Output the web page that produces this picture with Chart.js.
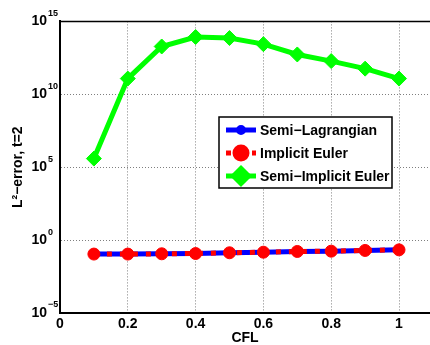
<!DOCTYPE html>
<html>
<head>
<meta charset="utf-8">
<script src="https://cdn.jsdelivr.net/npm/chart.js@4/dist/chart.umd.min.js"></script>
<style>
  body { margin: 0; background: #fff; }
  canvas { display: block; }
</style>
</head>
<body>
<canvas id="myChart" width="430" height="345"></canvas>
<script>
// CFL numbers along the x axis
const cfl = [0.1, 0.2, 0.3, 0.4, 0.5, 0.6, 0.7, 0.8, 0.9, 1.0];

// L2 error at t=2 for each scheme
const semiLagrangian = [0.110, 0.110, 0.115, 0.120, 0.135, 0.148, 0.166, 0.174, 0.195, 0.214];
const implicitEuler  = [0.110, 0.110, 0.115, 0.120, 0.135, 0.148, 0.166, 0.174, 0.195, 0.214];
const semiImplicitEuler = [3.9e5, 1.2e11, 1.9e13, 8.5e13, 7.2e13, 2.75e13, 5.4e12, 1.9e12, 5.75e11, 1.2e11];

const seriesLabels = ["Semi\u2212Lagrangian", "Implicit Euler", "Semi\u2212Implicit Euler"];

// tick labels
const xTicks = [0, 0.2, 0.4, 0.6, 0.8, 1];
const yTickExponents = [-5, 0, 5, 10, 15];

const FONT = '"Liberation Sans", Arial, sans-serif';
Chart.defaults.font.family = FONT;
Chart.defaults.color = "#000";

function toPoints(ys) {
  return ys.map((y, i) => ({ x: cfl[i], y: y }));
}

// draws the exponents next to the "10" tick labels, the top box line and the legend
const matlabLook = {
  id: "matlabLook",
  afterDraw(chart) {
    const ctx = chart.ctx;
    const area = chart.chartArea;
    const yScale = chart.scales.y;

    ctx.save();
    // top border of the axes box
    ctx.strokeStyle = "#000";
    ctx.lineWidth = 1.5;
    ctx.beginPath();
    ctx.moveTo(area.left, area.top);
    ctx.lineTo(area.right, area.top);
    ctx.stroke();

    // exponents of the y tick labels
    ctx.fillStyle = "#000";
    ctx.font = "bold 9px " + FONT;
    ctx.textAlign = "left";
    ctx.textBaseline = "middle";
    yScale.ticks.forEach(t => {
      const py = yScale.getPixelForValue(t.value);
      const e = Math.round(Math.log10(t.value));
      const txt = e < 0 ? "\u2212" + (-e) : String(e);
      ctx.fillText(txt, yScale.right - 12, py - 8);
    });

    // legend box
    const box = { x: 219, y: 117, w: 173, h: 71 };
    ctx.fillStyle = "#fff";
    ctx.fillRect(box.x, box.y, box.w, box.h);
    ctx.strokeStyle = "#000";
    ctx.lineWidth = 1.5;
    ctx.strokeRect(box.x, box.y, box.w, box.h);

    chart.data.datasets.forEach((ds, i) => {
      const cy = box.y + 13 + i * 23;
      const x0 = box.x + 7, x1 = box.x + 37;
      ctx.save();
      ctx.strokeStyle = ds.borderColor;
      ctx.lineWidth = ds.borderWidth;
      ctx.setLineDash(ds.borderDash || []);
      ctx.beginPath();
      ctx.moveTo(x0, cy);
      ctx.lineTo(x1, cy);
      ctx.stroke();
      ctx.setLineDash([]);
      ctx.fillStyle = ds.pointBackgroundColor;
      ctx.strokeStyle = ds.pointBorderColor;
      Chart.helpers.drawPoint(ctx, {
        pointStyle: ds.pointStyle,
        radius: ds.pointRadius,
        rotation: 0,
        borderWidth: ds.pointBorderWidth
      }, (x0 + x1) / 2, cy);
      ctx.restore();

      ctx.fillStyle = "#000";
      ctx.font = "bold 14px " + FONT;
      ctx.textAlign = "left";
      ctx.textBaseline = "middle";
      ctx.fillText(ds.label, box.x + 41, cy + 1);
    });
    ctx.restore();
  }
};

const ctx = document.getElementById("myChart").getContext("2d");
new Chart(ctx, {
  type: "line",
  data: {
    datasets: [
      {
        label: seriesLabels[0],
        data: toPoints(semiLagrangian),
        borderColor: "#0000ff",
        borderWidth: 5,
        pointStyle: "circle",
        pointRadius: 2.5,
        pointBackgroundColor: "#0000ff",
        pointBorderColor: "#0000ff",
        pointBorderWidth: 1,
        tension: 0,
        order: 3
      },
      {
        label: seriesLabels[1],
        data: toPoints(implicitEuler),
        borderColor: "#ff0000",
        borderWidth: 5,
        borderDash: [5, 8],
        pointStyle: "circle",
        pointRadius: 6,
        pointBackgroundColor: "#ff0000",
        pointBorderColor: "#ff0000",
        pointBorderWidth: 1,
        tension: 0,
        order: 2
      },
      {
        label: seriesLabels[2],
        data: toPoints(semiImplicitEuler),
        borderColor: "#00ff00",
        borderWidth: 5,
        pointStyle: "rectRot",
        pointRadius: 7.5,
        pointBackgroundColor: "#00ff00",
        pointBorderColor: "#00ff00",
        pointBorderWidth: 1,
        tension: 0,
        order: 1
      }
    ]
  },
  options: {
    responsive: false,
    animation: false,
    devicePixelRatio: 1,
    layout: {
      autoPadding: false,
      padding: { top: 19, left: 0, right: 0, bottom: 0 }
    },
    plugins: {
      legend: { display: false },
      tooltip: { enabled: false }
    },
    scales: {
      x: {
        type: "linear",
        min: 0,
        max: 1.0914,
        afterBuildTicks: scale => {
          scale.ticks = xTicks.map(v => ({ value: v }));
        },
        afterFit: scale => { scale.height = 32; },
        ticks: {
          padding: 3,
          maxRotation: 0,
          font: { size: 14, weight: "bold" },
          callback: v => String(v)
        },
        grid: { color: "rgba(0,0,0,0.5)", lineWidth: 1, drawTicks: false },
        border: { display: true, color: "#000", width: 2, dash: [1, 2] },
        title: {
          display: true,
          text: "CFL",
          font: { size: 14, weight: "bold", lineHeight: 1 },
          padding: { top: 0, bottom: 0 }
        }
      },
      y: {
        type: "logarithmic",
        min: 1e-5,
        max: 1e15,
        afterBuildTicks: scale => {
          scale.ticks = yTickExponents.map(e => ({ value: Math.pow(10, e) }));
        },
        afterFit: scale => { scale.width = 60; },
        ticks: {
          padding: 13,
          font: { size: 14, weight: "bold" },
          callback: () => "10"
        },
        grid: { color: "rgba(0,0,0,0.5)", lineWidth: 1, drawTicks: false },
        border: { display: true, color: "#000", width: 2, dash: [1, 2] },
        title: {
          display: true,
          text: "L\u00b2\u2212error, t=2",
          font: { size: 14, weight: "bold", lineHeight: 1 },
          padding: { top: 11, bottom: 0 }
        }
      }
    }
  },
  plugins: [matlabLook]
});
</script>
</body>
</html>
